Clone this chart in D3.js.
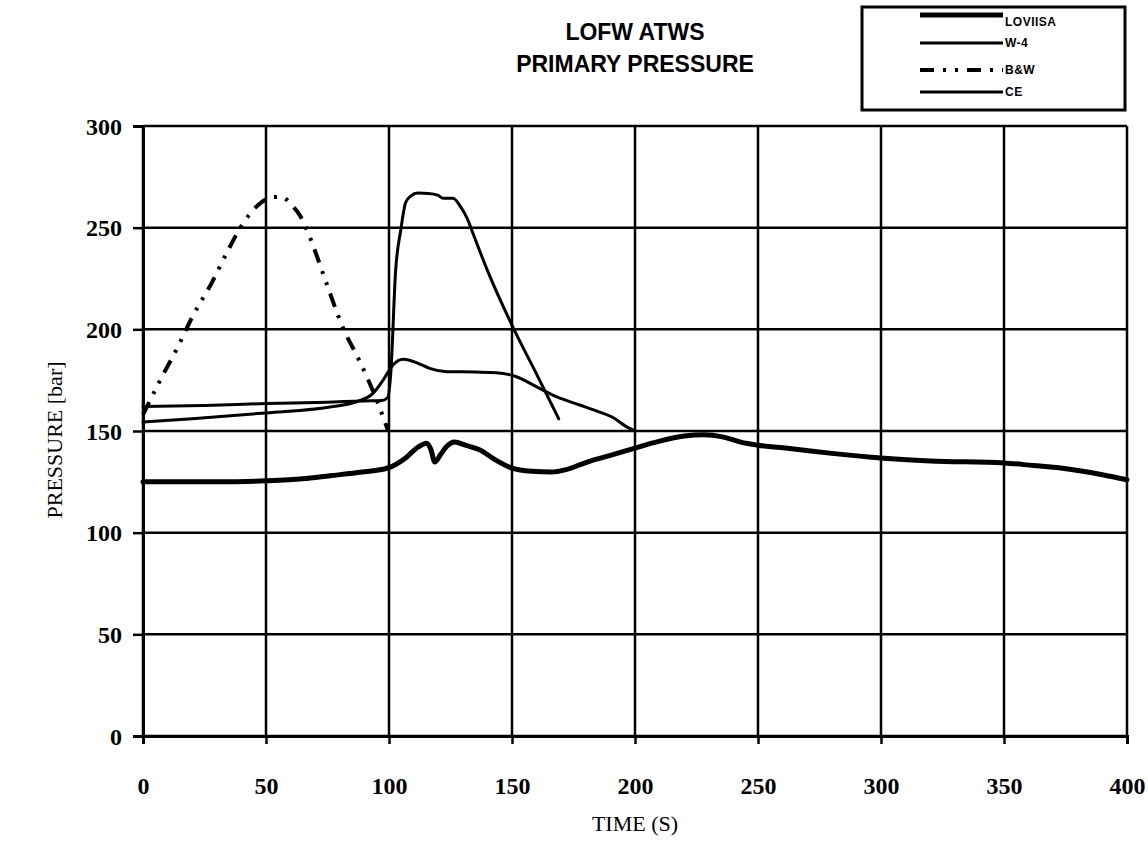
<!DOCTYPE html>
<html>
<head>
<meta charset="utf-8">
<script src="https://cdn.jsdelivr.net/npm/d3@7"></script>
<style>
  html, body { margin: 0; padding: 0; background: #fff; }
  svg { display: block; }
</style>
</head>
<body>
<svg id="chart" width="1148" height="841"></svg>
<script>
// ---------- data ----------
const titleLines = ["LOFW ATWS", "PRIMARY PRESSURE"];
const xTicks = [0, 50, 100, 150, 200, 250, 300, 350, 400];
const yTicks = [0, 50, 100, 150, 200, 250, 300];
const seriesNames = ["LOVIISA", "W-4", "B&W", "CE"];

const loviisaT = [0, 30, 50, 65, 76, 89, 99.5, 107, 111.7, 115.3, 117, 118.6, 121, 123.5, 126.7, 131, 137, 143, 150, 158, 166, 172, 180, 190, 200, 210, 220, 228, 236, 243, 250, 262, 280, 300, 320, 350, 362, 373, 390, 400];
const loviisaP = [125, 125, 125.5, 126.5, 128, 129.8, 131.8, 137, 142, 144, 141, 134.8, 138.5, 142.5, 144.6, 143, 140.7, 136, 131.8, 130.2, 129.8, 131, 134.5, 138, 141.6, 145, 147.5, 148.2, 147, 144.5, 143, 141.5, 139, 136.7, 135.3, 134.3, 133, 131.8, 128.5, 126];

const w4T = [0, 25, 50, 75, 90, 97, 99.5, 100.7, 102.7, 104.8, 106.8, 108.8, 111.7, 116, 119.8, 122, 126, 129, 132, 134, 140, 150.8, 160, 169];
const w4P = [162, 162.6, 163.5, 164.2, 164.8, 165, 166.5, 178, 229, 249, 262.5, 265.5, 267, 266.8, 266, 264.5, 264.5, 260.5, 254, 247.6, 229, 200, 178, 156];

const bwT = [0, 7, 14, 20, 28, 34, 40.6, 46.7, 52.8, 56.4, 60.5, 63.8, 67.8, 73.9, 81.2, 88, 95.4, 99.5];
const bwP = [158, 175, 191, 206, 223, 237.5, 252, 261, 265.1, 265.1, 261, 256, 245.4, 225, 201, 184.5, 164, 150.5];

const ceT = [0, 20, 50, 76, 87, 93.5, 97.6, 101.6, 105.7, 111.8, 116.5, 123.4, 135, 143.6, 151.8, 159.9, 168, 177.5, 184, 190.5, 197.4, 200];
const ceP = [154.4, 156, 158.9, 161.8, 164.5, 168.5, 175, 182.5, 185.3, 183.3, 180.8, 179.2, 179, 178.7, 176.7, 171.8, 166.9, 162.8, 160, 157, 151.5, 150];

// ---------- layout ----------
const svg = d3.select("#chart");
const plotL = 143, plotR = 1127, plotT = 126, plotB = 736;
const x = d3.scaleLinear().domain([0, 400]).range([plotL, plotR]);
const y = d3.scaleLinear().domain([0, 300]).range([plotB, plotT]);

const series = [
  { name: seriesNames[0], t: loviisaT, p: loviisaP, width: 5, dash: null },
  { name: seriesNames[1], t: w4T, p: w4P, width: 3, dash: null },
  { name: seriesNames[2], t: bwT, p: bwP, width: 4, dash: "14,9,3,9,3,9" },
  { name: seriesNames[3], t: ceT, p: ceP, width: 3, dash: null }
];

// grid
const grid = svg.append("g");
grid.selectAll("line.h").data(yTicks).join("line").attr("class", "h")
  .attr("x1", plotL).attr("x2", plotR)
  .attr("y1", d => y(d)).attr("y2", d => y(d))
  .attr("stroke", "#000").attr("stroke-width", 2.5);
grid.selectAll("line.v").data(xTicks).join("line").attr("class", "v")
  .attr("x1", d => x(d)).attr("x2", d => x(d))
  .attr("y1", plotT).attr("y2", plotB)
  .attr("stroke", "#000").attr("stroke-width", 2.5);

// axes
const xAxis = svg.append("g").attr("transform", `translate(0,${plotB})`)
  .call(d3.axisBottom(x).tickValues(xTicks).tickSize(8).tickPadding(33).tickFormat(d3.format("d")));
const yAxis = svg.append("g").attr("transform", `translate(${plotL},0)`)
  .call(d3.axisLeft(y).tickValues(yTicks).tickSize(10).tickPadding(11).tickFormat(d3.format("d")));
[xAxis, yAxis].forEach(a => {
  a.select(".domain").attr("stroke", "#000").attr("stroke-width", 3);
  a.selectAll(".tick line").attr("stroke", "#000").attr("stroke-width", 2.5);
  a.selectAll(".tick text")
    .attr("fill", "#000")
    .style("font-family", "'Liberation Serif', 'Times New Roman', serif")
    .style("font-weight", "bold")
    .style("font-size", "24px");
});
yAxis.selectAll(".tick text").attr("dy", "0.34em");

// lines
const line = d3.line().curve(d3.curveMonotoneX);
svg.append("g").selectAll("path").data(series).join("path")
  .attr("d", s => line(s.t.map((t, i) => [x(t), y(s.p[i])])))
  .attr("fill", "none")
  .attr("stroke", "#000")
  .attr("stroke-width", s => s.width)
  .attr("stroke-linejoin", "round")
  .attr("stroke-linecap", s => s.dash ? "butt" : "round")
  .attr("stroke-dasharray", s => s.dash);

// titles
svg.append("g").selectAll("text").data(titleLines).join("text")
  .attr("x", (plotL + plotR) / 2)
  .attr("y", (d, i) => 40 + i * 32)
  .attr("text-anchor", "middle")
  .style("font-family", "'Liberation Sans', Arial, sans-serif")
  .style("font-weight", "bold")
  .style("font-size", "23px")
  .text(d => d);

svg.append("text")
  .attr("x", (plotL + plotR) / 2).attr("y", 831)
  .attr("text-anchor", "middle")
  .style("font-family", "'Liberation Serif', 'Times New Roman', serif")
  .style("font-size", "22px")
  .text("TIME (S)");

svg.append("text")
  .attr("transform", "translate(62,440) rotate(-90)")
  .attr("text-anchor", "middle")
  .style("font-family", "'Liberation Serif', 'Times New Roman', serif")
  .style("font-size", "22px")
  .text("PRESSURE [bar]");

// legend
const lg = svg.append("g");
lg.append("rect").attr("x", 862).attr("y", 7).attr("width", 263).attr("height", 103)
  .attr("fill", "#fff").attr("stroke", "#000").attr("stroke-width", 3);
const legendRows = [15, 43, 70, 92];
const legendText = [22, 43, 70, 92];
series.forEach((s, i) => {
  lg.append("line").attr("x1", 920).attr("x2", 1003)
    .attr("y1", legendRows[i]).attr("y2", legendRows[i])
    .attr("stroke", "#000").attr("stroke-width", s.width)
    .attr("stroke-dasharray", s.dash);
  lg.append("text").attr("x", 1005).attr("y", legendText[i])
    .attr("dy", "0.35em")
    .style("font-family", "'Liberation Sans', Arial, sans-serif")
    .style("font-weight", "bold")
    .style("font-size", "12px")
    .style("letter-spacing", "0.5px")
    .text(s.name);
});
</script>
</body>
</html>
